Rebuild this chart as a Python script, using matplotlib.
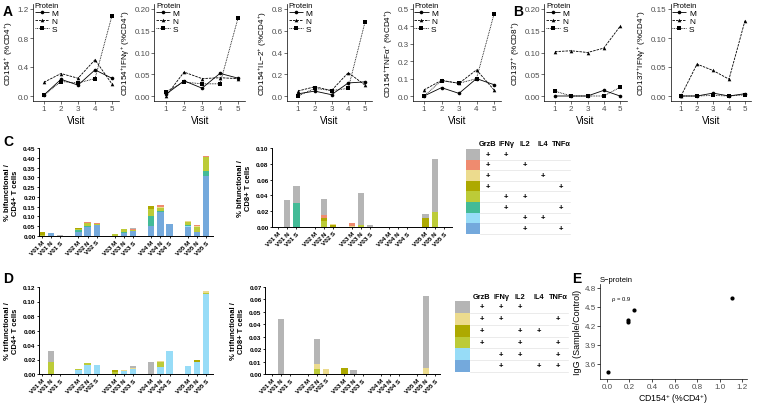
import matplotlib.pyplot as plt
from matplotlib.lines import Line2D
from matplotlib.patches import Rectangle

plt.rcParams['font.family'] = ['Liberation Sans', 'DejaVu Sans']
plt.rcParams['mathtext.fontset'] = 'custom'
plt.rcParams['mathtext.rm'] = 'Liberation Sans'
plt.rcParams['mathtext.it'] = 'Liberation Sans:italic'
plt.rcParams['mathtext.bf'] = 'Liberation Sans:bold'
plt.rcParams['mathtext.default'] = 'regular'

W, H = 757, 406

# ---- panels A / B : line charts ----
visits = [1, 2, 3, 4, 5]
proteins = ['M', 'N', 'S']

cd154 = {'M': [0.015, 0.23, 0.15, 0.36, 0.245],
         'N': [0.19, 0.31, 0.245, 0.50, 0.165],
         'S': [0.01, 0.20, 0.18, 0.24, 1.11]}
cd154_ifng = {'M': [0.004, 0.035, 0.018, 0.052, 0.041],
              'N': [0.0, 0.055, 0.040, 0.042, 0.040],
              'S': [0.010, 0.032, 0.028, 0.028, 0.179]}
cd154_il2 = {'M': [0.02, 0.045, 0.012, 0.12, 0.13],
             'N': [0.046, 0.085, 0.05, 0.215, 0.10],
             'S': [0.0, 0.07, 0.05, 0.07, 0.68]}
cd154_tnfa = {'M': [0.0, 0.048, 0.015, 0.10, 0.065],
              'N': [0.035, 0.09, 0.073, 0.15, 0.035],
              'S': [0.0, 0.088, 0.073, 0.10, 0.47]}
cd137 = {'M': [0.0, 0.0, 0.0, 0.013, 0.0],
         'N': [0.102, 0.104, 0.100, 0.110, 0.160],
         'S': [0.011, 0.0, 0.0, 0.0, 0.020]}
cd137_ifng = {'M': [0.0, 0.0, 0.005, 0.0, 0.004],
              'N': [0.0, 0.055, 0.044, 0.029, 0.130],
              'S': [0.0, 0.0, 0.001, 0.0, 0.002]}

line_panels = [
    (cd154, 'CD154$^{+}$ (%CD4$^{+}$)', [0.0, 0.4, 0.8, 1.2], '{:.1f}', 44, 112),
    (cd154_ifng, 'CD154$^{+}$IFNγ$^{+}$ (%CD4$^{+}$)', [0.0, 0.05, 0.10, 0.15, 0.20], '{:.2f}', 166, 238),
    (cd154_il2, 'CD154$^{+}$IL−2$^{+}$ (%CD4$^{+}$)', [0.0, 0.2, 0.4, 0.6, 0.8], '{:.1f}', 298, 365),
    (cd154_tnfa, 'CD154$^{+}$TNFα$^{+}$ (%CD4$^{+}$)', [0.0, 0.1, 0.2, 0.3, 0.4, 0.5], '{:.1f}', 424, 494),
    (cd137, 'CD137$^{+}$ (%CD8$^{+}$)', [0.0, 0.05, 0.10, 0.15, 0.20], '{:.2f}', 555, 620),
    (cd137_ifng, 'CD137$^{+}$IFNγ$^{+}$ (%CD4$^{+}$)', [0.0, 0.05, 0.10, 0.15], '{:.2f}', 681, 745),
]

styles = {'M': ('o', (0, ())), 'N': ('^', (0, (3, 1.2))), 'S': ('s', (0, (1, 1)))}

# ---- panels C / D : stacked bars ----
bar_labels = ['V0%d %s' % (v, p) for v in visits for p in proteins]

colors = {'gray': '#b5b5b5', 'salmon': '#ef8b6f', 'lyellow': '#ecdb8e',
          'olive': '#ada900', 'ygreen': '#bccb38', 'teal': '#43bb97',
          'lblue': '#97dcf7', 'blue': '#74a9dc'}

c_order = ['blue', 'lblue', 'teal', 'ygreen', 'olive', 'lyellow', 'salmon', 'gray']
c_cd4 = {
    'blue':    [0, 0.013, 0, 0.02, 0.045, 0.055, 0, 0.015, 0.028, 0.05, 0.123, 0.063, 0.048, 0.02, 0.305],
    'lblue':   [0, 0, 0, 0, 0, 0, 0, 0, 0, 0, 0, 0, 0.005, 0, 0],
    'teal':    [0, 0, 0, 0.01, 0.005, 0.003, 0, 0.008, 0, 0.053, 0.007, 0, 0.005, 0, 0.025],
    'ygreen':  [0.006, 0, 0, 0.008, 0.015, 0.005, 0.008, 0.015, 0.005, 0.035, 0.013, 0, 0.015, 0.028, 0.073],
    'olive':   [0.012, 0, 0, 0.002, 0, 0, 0.004, 0, 0, 0.017, 0, 0, 0, 0, 0],
    'lyellow': [0, 0, 0, 0, 0.002, 0, 0, 0, 0, 0, 0.007, 0, 0.003, 0.005, 0],
    'salmon':  [0, 0, 0, 0, 0.005, 0.003, 0, 0, 0.004, 0, 0.007, 0, 0, 0.002, 0.006],
    'gray':    [0, 0, 0.006, 0, 0.002, 0, 0, 0, 0.006, 0, 0, 0, 0, 0, 0],
}
c_cd8 = {
    'teal':    [0, 0, 0.031, 0, 0, 0, 0, 0, 0, 0, 0, 0, 0, 0, 0],
    'ygreen':  [0, 0, 0, 0, 0.007, 0, 0, 0.003, 0, 0, 0, 0, 0, 0.019, 0],
    'olive':   [0, 0, 0, 0, 0.005, 0.003, 0, 0, 0, 0, 0, 0, 0.012, 0, 0],
    'lyellow': [0, 0, 0, 0, 0, 0.001, 0.001, 0, 0, 0, 0, 0, 0, 0, 0],
    'salmon':  [0, 0, 0, 0, 0.003, 0, 0.004, 0, 0, 0, 0, 0, 0, 0, 0],
    'gray':    [0, 0.034, 0.021, 0, 0.021, 0, 0, 0.040, 0.003, 0, 0, 0, 0.004, 0.067, 0],
}
c_rows = ['gray', 'salmon', 'lyellow', 'olive', 'ygreen', 'teal', 'lblue', 'blue']
c_marks = [[0, 1], [0, 2], [0, 3], [0, 4], [1, 2], [1, 4], [2, 3], [2, 4]]

d_order = ['blue', 'lblue', 'ygreen', 'olive', 'lyellow', 'gray']
d_cd4 = {
    'lblue':   [0, 0, 0, 0.006, 0.013, 0.013, 0, 0.004, 0.007, 0, 0.009, 0.032, 0.011, 0.016, 0.110],
    'ygreen':  [0, 0.016, 0, 0.001, 0.0015, 0, 0.003, 0, 0, 0, 0.008, 0, 0, 0.001, 0.002],
    'olive':   [0, 0, 0, 0, 0.0005, 0, 0.002, 0, 0, 0, 0, 0, 0, 0.002, 0],
    'lyellow': [0, 0, 0, 0.0005, 0, 0, 0.0005, 0.002, 0.001, 0, 0.001, 0, 0, 0, 0.002],
    'gray':    [0, 0.016, 0, 0, 0, 0, 0, 0, 0.003, 0.017, 0, 0, 0, 0, 0],
}
d_cd8 = {
    'ygreen':  [0, 0, 0, 0, 0.004, 0, 0, 0, 0, 0, 0, 0, 0, 0, 0],
    'olive':   [0, 0, 0, 0, 0, 0, 0.005, 0, 0, 0, 0, 0, 0, 0, 0],
    'lyellow': [0, 0, 0, 0, 0.004, 0.004, 0, 0, 0, 0, 0, 0, 0, 0.005, 0],
    'gray':    [0, 0.044, 0, 0, 0.020, 0, 0, 0.0035, 0, 0, 0, 0, 0, 0.058, 0],
}
d_rows = ['gray', 'lyellow', 'olive', 'ygreen', 'lblue', 'blue']
d_marks = [[0, 1, 2], [0, 1, 4], [0, 2, 3], [0, 2, 4], [1, 2, 4], [1, 3, 4]]

cytokines = ['GrzB', 'IFNγ', 'IL2', 'IL4', 'TNFα']

# ---- panel E ----
e_x = [0.01, 0.19, 0.19, 0.24, 1.11]
e_y = [3.48, 4.29, 4.26, 4.45, 4.64]

fig = plt.figure(figsize=(W / 100, H / 100), dpi=100)


def px_axes(l, t, r, b):
    return fig.add_axes([l / W, 1 - b / H, (r - l) / W, (b - t) / H])


for data, ylab, yt, fmt, p1, p5 in line_panels:
    s = (p5 - p1) / 4
    ax = px_axes(p1 - 0.65 * s, 5, p5 + 0.4 * s, 102)
    ax.set_xlim(0.35, 5.4)
    ymax = yt[-1]
    k = ymax / 87
    ax.set_ylim(-5 * k, ymax + 5 * k)
    handles = []
    for p in proteins:
        mk, ls = styles[p]
        ax.plot(visits, data[p], color='black', lw=0.6, linestyle=ls,
                marker=mk, ms=2.6, mew=0)
        handles.append(Line2D([], [], color='black', lw=0.6, linestyle=ls,
                              marker=mk, ms=2.6, mew=0))
    ax.set_xticks(visits)
    ax.set_yticks(yt)
    ax.set_yticklabels([fmt.format(v) for v in yt])
    ax.tick_params(labelsize=5.8, length=2, width=0.5, pad=1, colors='#333333',
                   labelcolor='#4d4d4d')
    for sp in ['top', 'right']:
        ax.spines[sp].set_visible(False)
    for sp in ['left', 'bottom']:
        ax.spines[sp].set_linewidth(0.5)
    ax.set_xlabel('Visit', fontsize=7, labelpad=2)
    ax.set_ylabel(ylab, fontsize=5.9, labelpad=2)
    leg = ax.legend(handles, proteins, title='Protein', loc='upper left',
                    bbox_to_anchor=(0.02, 1.02), frameon=False, fontsize=6,
                    title_fontsize=5.5, handlelength=1.7, handletextpad=0.3,
                    labelspacing=0.02, borderaxespad=0, borderpad=0)
    leg._legend_box.align = 'left'

fig.text(3 / W, 1 - 12 / H, 'A', fontsize=10, fontweight='bold', va='center')
fig.text(513 / W, 1 - 12 / H, 'B', fontsize=10, fontweight='bold', va='center')


def bar_panel(l, t, r, b, x0, x18, data, order, yt, ylab):
    s = (x18 - x0) / 18
    ax = px_axes(l, t, r, b)
    ax.set_xlim((l - x0) / s, (r - x0) / s)
    ax.set_ylim(0, yt[-1])
    xs = [4 * (i // 3) + i % 3 for i in range(15)]
    bottom = [0.0] * 15
    for key in order:
        if key not in data:
            continue
        vals = data[key]
        ax.bar(xs, vals, width=0.68, bottom=bottom, color=colors[key], lw=0)
        bottom = [bb + v for bb, v in zip(bottom, vals)]
    ax.set_xticks(xs)
    ax.set_xticklabels(bar_labels, rotation=45, ha='right', rotation_mode='anchor',
                       fontsize=4.6, fontweight='bold')
    ax.set_yticks(yt)
    ax.set_yticklabels(['%.2f' % v for v in yt], fontsize=4.6, fontweight='bold')
    ax.tick_params(length=1.5, width=0.6, pad=1)
    for sp in ['top', 'right']:
        ax.spines[sp].set_visible(False)
    for sp in ['left', 'bottom']:
        ax.spines[sp].set_linewidth(0.7)
    ax.set_ylabel(ylab, fontsize=5.5, fontweight='bold', labelpad=3, linespacing=1.1)
    return ax


bar_panel(39, 149, 213, 237, 42, 206, c_cd4, c_order,
          [0.05 * i for i in range(10)], '% bifunctional /\nCD4+ T cells')
bar_panel(272, 149, 452, 228, 278, 444, c_cd8, c_order,
          [0.02 * i for i in range(6)], '% bifunctional /\nCD8+ T cells')
bar_panel(39, 288, 213, 375, 42, 206, d_cd4, d_order,
          [0.02 * i for i in range(7)], '% trifunctional /\nCD4+ T cells')
bar_panel(265, 288, 440, 375, 272, 435, d_cd8, d_order,
          [0.01 * i for i in range(8)], '% trifunctional /\nCD8+ T cells')

fig.text(3 / W, 1 - 142 / H, 'C', fontsize=10, fontweight='bold', va='center')
fig.text(3 / W, 1 - 279 / H, 'D', fontsize=10, fontweight='bold', va='center')


def table_panel(l, t, r, b, col0, step, row0, rowh, sw_l, sw_r, rows, marks, head_y):
    ax = px_axes(l, t, r, b)
    ax.set_xlim((l - col0) / step, (r - col0) / step)
    ax.set_ylim((b - row0) / rowh, (t - row0) / rowh)
    ax.axis('off')
    sl = (sw_l - col0) / step
    sw = (sw_r - sw_l) / step
    for i, key in enumerate(rows):
        ax.add_patch(Rectangle((sl, i - 0.5), sw, 1, color=colors[key], lw=0))
        for j in marks[i]:
            ax.text(j, i, '+', ha='center', va='center', fontsize=5.5,
                    fontweight='bold')
        ax.plot([sl + sw, 4.5], [i + 0.5, i + 0.5], color='#e3e3e3', lw=0.5)
    for j, c in enumerate(cytokines):
        ax.text(j, (head_y - row0) / rowh, c, ha='center', va='center',
                fontsize=5.3, fontweight='bold')


table_panel(460, 138, 578, 240, 488, 18.25, 155.3, 10.6, 466, 480,
            c_rows, c_marks, 145)
table_panel(450, 288, 578, 380, 482, 19, 308, 11.8, 455, 470,
            d_rows, d_marks, 298)

# ---- E ----
axe = px_axes(600, 285, 747, 380)
axe.set_xlim(-0.062, 1.244)
axe.set_ylim(3.363, 4.863)
axe.scatter(e_x, e_y, s=9, color='black', lw=0)
axe.set_xticks([0.0, 0.2, 0.4, 0.6, 0.8, 1.0, 1.2])
axe.set_xticklabels(['0.0', '0.2', '0.4', '0.6', '0.8', '1.0', '1.2'])
axe.set_yticks([3.6, 3.9, 4.2, 4.5, 4.8])
axe.set_yticklabels(['3.6', '3.9', '4.2', '4.5', '4.8'])
axe.tick_params(labelsize=5.8, length=2, width=0.5, pad=1, labelcolor='#4d4d4d')
for sp in ['top', 'right']:
    axe.spines[sp].set_visible(False)
for sp in ['left', 'bottom']:
    axe.spines[sp].set_linewidth(0.5)
axe.set_xlabel('CD154$^{+}$ (%CD4$^{+}$)', fontsize=6.3, labelpad=0.5)
axe.set_ylabel('IgG (Sample/Control)', fontsize=6.5, labelpad=2)
axe.set_title('S\u2212protein', fontsize=5.5, loc='left', pad=2, x=0.0)
axe.text(0.044, 4.63, 'ρ = 0.9', fontsize=4.2, va='center')
fig.text(572 / W, 1 - 279 / H, 'E', fontsize=10, fontweight='bold', va='center')

fig.savefig('out.png', dpi=100)
